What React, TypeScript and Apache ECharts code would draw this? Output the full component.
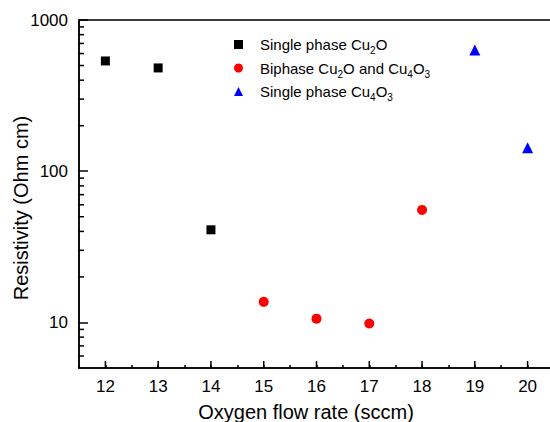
import React, { useEffect, useRef } from "react";
import * as echarts from "echarts";

const X_MIN = 11.5;
const X_MAX = 20.5;
const Y_MIN = 5;
const Y_MAX = 1000;

const seriesNames = ["Single phase Cu2O", "Biphase Cu2O and Cu4O3", "Single phase Cu4O3"];
const cu2oX = [12, 13, 14];
const cu2oY = [536, 482, 41];
const biphaseX = [15, 16, 17, 18];
const biphaseY = [13.7, 10.6, 9.85, 55.5];
const cu4o3X = [19, 20];
const cu4o3Y = [634, 143];
const xMajorTicks = [12, 13, 14, 15, 16, 17, 18, 19, 20];
const yLabelValues = [10, 100, 1000];
const yMinorTicks = [6, 7, 8, 9, 20, 30, 40, 50, 60, 70, 80, 90, 200, 300, 400, 500, 600, 700, 800, 900];

const FONT = "'Liberation Sans', Arial, Helvetica, sans-serif";

function pairs(xs: number[], ys: number[]) {
  return xs.map((x, i) => [x, ys[i]]);
}

function subFormat(name: string) {
  const parts = name.split(/(\d)/);
  return (
    "{g|}" +
    parts
      .map((p) => (/^\d$/.test(p) ? `{s|${p}}` : p ? `{n|${p}}` : ""))
      .join("")
  );
}

export default function App() {
  const ref = useRef<HTMLDivElement>(null);
  useEffect(() => {
    if (!ref.current) return;
    const chart = echarts.init(ref.current, null, { renderer: "svg" });
    const axisLine = { show: true, lineStyle: { color: "#000", width: 1.5 } };
    chart.setOption({
      animation: false,
      backgroundColor: "#fff",
      grid: {
        left: 79,
        top: 20,
        width: 475,
        bottom: 54,
        show: true,
        borderColor: "#000",
        borderWidth: 1.5,
        containLabel: false,
        outerBoundsMode: "none",
      },
      xAxis: {
        type: "value",
        min: X_MIN,
        max: X_MAX,
        interval: 0.5,
        axisLine,
        axisTick: { show: true, inside: true, length: 3, lineStyle: { color: "#000", width: 1.5 } },
        splitLine: { show: false },
        axisLabel: {
          margin: 10,
          fontSize: 17,
          color: "#000",
          fontFamily: FONT,
          formatter: (v: number) => (Math.abs(v - Math.round(v)) < 1e-6 ? String(Math.round(v)) : ""),
        },
      },
      yAxis: {
        type: "log",
        logBase: 10,
        min: Y_MIN,
        max: Y_MAX,
        axisLine,
        axisTick: { show: true, inside: true, length: 9, lineStyle: { color: "#000", width: 1.5 } },
        splitLine: { show: false },
        axisLabel: {
          margin: 11,
          fontSize: 17,
          color: "#000",
          fontFamily: FONT,
          showMinLabel: false,
          formatter: (v: number) => {
            const r = Math.round(v);
            return yLabelValues.includes(r) ? String(r) : "";
          },
        },
      },
      legend: {
        orient: "vertical",
        left: 229,
        top: 32,
        itemGap: 5,
        itemWidth: 9,
        itemHeight: 9,
        data: seriesNames,
        formatter: (name: string) => subFormat(name),
        textStyle: {
          color: "#000",
          fontFamily: FONT,
          rich: {
            g: { width: 12, fontSize: 15, lineHeight: 22 },
            n: { fontSize: 15, fontFamily: FONT, color: "#000", lineHeight: 22, verticalAlign: "middle" },
            s: { fontSize: 10, fontFamily: FONT, color: "#000", lineHeight: 22, verticalAlign: "bottom" },
          },
        },
      },
      graphic: [
        {
          type: "text",
          x: 306,
          y: 412,
          style: {
            text: "Oxygen flow rate (sccm)",
            fontSize: 20,
            fontFamily: FONT,
            fill: "#000",
            textAlign: "center",
            textVerticalAlign: "middle",
          },
        },
        {
          type: "text",
          x: 21,
          y: 208,
          rotation: Math.PI / 2,
          style: {
            text: "Resistivity (Ohm cm)",
            fontSize: 20,
            fontFamily: FONT,
            fill: "#000",
            textAlign: "center",
            textVerticalAlign: "middle",
          },
        },
      ],
      series: [
        {
          name: seriesNames[0],
          type: "scatter",
          symbol: "rect",
          symbolSize: 9,
          itemStyle: { color: "#000", opacity: 1 },
          data: pairs(cu2oX, cu2oY),
        },
        {
          name: seriesNames[1],
          type: "scatter",
          symbol: "circle",
          symbolSize: 10,
          itemStyle: { color: "#ff0000", opacity: 1 },
          data: pairs(biphaseX, biphaseY),
        },
        {
          name: seriesNames[2],
          type: "scatter",
          symbol: "triangle",
          symbolSize: 11,
          itemStyle: { color: "#0000ff", opacity: 1 },
          data: pairs(cu4o3X, cu4o3Y),
        },
        {
          name: "yMinor",
          type: "custom",
          silent: true,
          data: yMinorTicks.map((v) => [X_MIN, v]),
          renderItem: (params: any, api: any) => {
            const p = api.coord([api.value(0), api.value(1)]);
            return {
              type: "line",
              shape: { x1: p[0], y1: p[1], x2: p[0] + 5, y2: p[1] },
              style: { stroke: "#000", lineWidth: 1.5 },
            };
          },
        },
        {
          name: "xMajor",
          type: "custom",
          silent: true,
          data: xMajorTicks.map((v) => [v, Y_MIN]),
          renderItem: (params: any, api: any) => {
            const p = api.coord([api.value(0), api.value(1)]);
            return {
              type: "line",
              shape: { x1: p[0], y1: p[1], x2: p[0], y2: p[1] - 7 },
              style: { stroke: "#000", lineWidth: 1.5 },
            };
          },
        },
      ],
    });
    return () => chart.dispose();
  }, []);
  return (
    <div
      ref={ref}
      style={{ position: "absolute", left: 0, top: 0, width: 550, height: 422 }}
    />
  );
}
